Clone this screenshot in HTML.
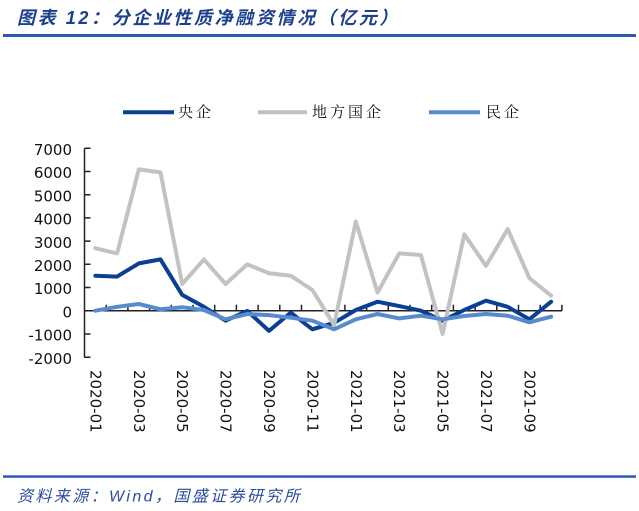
<!DOCTYPE html>
<html><head><meta charset="utf-8"><style>
html,body{margin:0;padding:0;background:#fff;}
svg{display:block;}
</style></head><body>
<svg width="639" height="511" viewBox="0 0 639 511" xmlns="http://www.w3.org/2000/svg">
<rect width="639" height="511" fill="#fff"/>
<text x="17" y="18" dominant-baseline="central" font-family="'Liberation Sans','Noto Sans CJK SC',sans-serif" font-size="18" font-weight="bold" font-style="italic" fill="#1c3f8e" letter-spacing="2.6">图表 12：分企业性质净融资情况（亿元）</text>
<rect x="3" y="34" width="633" height="3" fill="#2a5aab"/>
<!-- legend -->
<line x1="123" y1="112.3" x2="174" y2="112.3" stroke="#0b3f94" stroke-width="4"/>
<text x="178" y="113" dominant-baseline="central" font-family="'Liberation Serif','Noto Serif CJK SC',serif" font-size="15" letter-spacing="3" fill="#111">央企</text>
<line x1="258" y1="112.3" x2="307" y2="112.3" stroke="#c0c0c0" stroke-width="4"/>
<text x="312" y="113" dominant-baseline="central" font-family="'Liberation Serif','Noto Serif CJK SC',serif" font-size="15" letter-spacing="3" fill="#111">地方国企</text>
<line x1="429" y1="112.3" x2="480" y2="112.3" stroke="#588bcb" stroke-width="4"/>
<text x="486" y="113" dominant-baseline="central" font-family="'Liberation Serif','Noto Serif CJK SC',serif" font-size="15" letter-spacing="3" fill="#111">民企</text>
<!-- y axis labels -->
<g font-family="'DejaVu Sans',sans-serif" font-size="15" fill="#111" text-anchor="end" dominant-baseline="central">
<text x="72" y="150">7000</text>
<text x="72" y="173.2">6000</text>
<text x="72" y="196.4">5000</text>
<text x="72" y="219.6">4000</text>
<text x="72" y="242.8">3000</text>
<text x="72" y="266">2000</text>
<text x="72" y="289.2">1000</text>
<text x="72" y="312.4">0</text>
<text x="72" y="335.6">-1000</text>
<text x="72" y="358.8">-2000</text>
</g>
<!-- axes -->
<g stroke="#222" stroke-width="1.5" fill="none">
<line x1="84.5" y1="148.3" x2="84.5" y2="357.5"/>
<path d="M84.5 148.3h6M84.5 171.5h6M84.5 194.7h6M84.5 217.9h6M84.5 241.1h6M84.5 264.3h6M84.5 287.5h6M84.5 334h6M84.5 357.2h6"/>
<line x1="84.5" y1="310.7" x2="562" y2="310.7"/>
<path d="M106.2 310.7v-6M127.9 310.7v-6M149.6 310.7v-6M171.3 310.7v-6M193 310.7v-6M214.7 310.7v-6M236.4 310.7v-6M258.1 310.7v-6M279.8 310.7v-6M301.5 310.7v-6M323.2 310.7v-6M344.9 310.7v-6M366.6 310.7v-6M388.3 310.7v-6M410 310.7v-6M431.7 310.7v-6M453.4 310.7v-6M475.1 310.7v-6M496.8 310.7v-6M518.5 310.7v-6M540.2 310.7v-6M561.9 310.7v-6"/>
</g>
<!-- series -->
<g fill="none" stroke-width="4" stroke-linejoin="round" stroke-linecap="round">
<polyline stroke="#0b3f94" points="95.4,275.7 117.1,276.6 138.8,263.4 160.5,259.4 182.2,294.9 203.9,306.8 225.6,320.7 247.3,310.9 269,330.9 290.7,312.6 312.4,329.3 334.1,322.8 355.8,310 377.5,301.7 399.2,306.1 420.9,310.7 442.6,320.7 464.3,310 486,300.7 507.7,306.8 529.4,319.3 551.1,301.7"/>
<polyline stroke="#c2c2c2" points="95.4,248.3 117.1,253.4 138.8,169.4 160.5,172.4 182.2,284 203.9,259.4 225.6,284 247.3,264.3 269,273.3 290.7,275.7 312.4,290 334.1,325.1 355.8,221.6 377.5,292.6 399.2,253.4 420.9,255 442.6,333.9 464.3,234.4 486,265.9 507.7,229 529.4,278.2 551.1,295.6"/>
<polyline stroke="#588bcb" points="95.4,310.7 117.1,306.8 138.8,304 160.5,309.3 182.2,307.2 203.9,310 225.6,319.3 247.3,314 269,315.1 290.7,317.7 312.4,320.7 334.1,329.3 355.8,319.3 377.5,314 399.2,318.4 420.9,315.7 442.6,319.3 464.3,316 486,314 507.7,315.7 529.4,322.3 551.1,316.7"/>
</g>
<!-- x labels -->
<g font-family="'DejaVu Sans',sans-serif" font-size="15" fill="#111" dominant-baseline="central">
<text transform="translate(95.4,370) rotate(90)">2020-01</text>
<text transform="translate(138.8,370) rotate(90)">2020-03</text>
<text transform="translate(182.2,370) rotate(90)">2020-05</text>
<text transform="translate(225.6,370) rotate(90)">2020-07</text>
<text transform="translate(269,370) rotate(90)">2020-09</text>
<text transform="translate(312.4,370) rotate(90)">2020-11</text>
<text transform="translate(355.8,370) rotate(90)">2021-01</text>
<text transform="translate(399.2,370) rotate(90)">2021-03</text>
<text transform="translate(442.6,370) rotate(90)">2021-05</text>
<text transform="translate(486,370) rotate(90)">2021-07</text>
<text transform="translate(529.4,370) rotate(90)">2021-09</text>
</g>
<rect x="3" y="475.3" width="633" height="2.5" fill="#2a5aab"/>
<text x="17" y="497" dominant-baseline="central" font-family="'Liberation Sans','Noto Sans CJK SC',sans-serif" font-size="16" font-style="italic" fill="#2a4f9c" letter-spacing="2.4">资料来源：Wind，国盛证券研究所</text>
</svg>
</body></html>
